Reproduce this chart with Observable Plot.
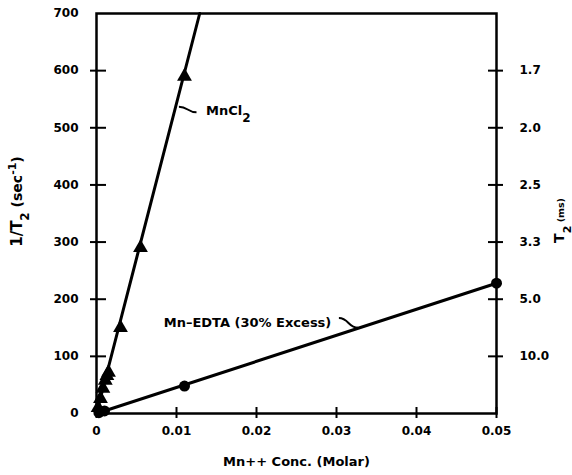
<!DOCTYPE html>
<html><head><meta charset="utf-8">
<script src="https://cdn.jsdelivr.net/npm/d3@7"></script>
<script src="https://cdn.jsdelivr.net/npm/@observablehq/plot@0.6"></script>
<style>body{margin:0;background:#fff}</style>
</head><body><div id="chart"></div>
<script>
// MnCl2 measured points (triangles)
const mncl2X = [0.0002, 0.0005, 0.0008, 0.0011, 0.0013, 0.0015, 0.003, 0.0055, 0.011];
const mncl2Y = [10, 26, 44, 58, 66, 72, 150, 290, 590];
// Mn-EDTA measured points (circles)
const edtaX = [0.0003, 0.001, 0.011, 0.05];
const edtaY = [1.5, 4.5, 48, 228];
// fitted lines
const mncl2FitX = [0, 0.0129];
const mncl2FitY = [0, 700];
const edtaFitX = [0, 0.05];
const edtaFitY = [0, 228];
// ticks
const xTicks = [0, 0.01, 0.02, 0.03, 0.04, 0.05];
const xTickLabels = ["0", "0.01", "0.02", "0.03", "0.04", "0.05"];
const yTicks = [0, 100, 200, 300, 400, 500, 600, 700];
const yTickMarks = [100, 200, 300, 400, 500, 600];
const t2Ticks = [100, 200, 300, 400, 500, 600];
const t2Labels = ["10.0", "5.0", "3.3", "2.5", "2.0", "1.7"];
// annotations
const annText = ["MnCl2", "Mn\u2013EDTA (30% Excess)"];
const annX = [0.0137, 0.0084];
const annY = [530, 159];
const leaderX1 = [0.0103, 0.0303];
const leaderY1 = [537, 167];
const leaderX2 = [0.0125, 0.0327];
const leaderY2 = [527, 150];

const pts = (xs, ys) => xs.map((x, i) => ({x, y: ys[i]}));
const xFmt = d => xTickLabels[xTicks.indexOf(d)];
const t2Fmt = d => t2Labels[t2Ticks.indexOf(d)];
const ann = annText.map((t, i) => ({t, x: annX[i], y: annY[i]}));
const leaders = leaderX1.map((x1, i) => ({x1, y1: leaderY1[i], x2: leaderX2[i], y2: leaderY2[i]}));

const plot = Plot.plot({
  width: 572,
  height: 475,
  marginLeft: 96,
  marginRight: 76,
  marginTop: 13,
  marginBottom: 62,
  style: {fontFamily: "DejaVu Sans, sans-serif", fontWeight: "bold", fontSize: "12px", background: "#fff", color: "#000"},
  x: {domain: [0, 0.05]},
  y: {domain: [0, 700]},
  marks: [
    Plot.frame({strokeWidth: 2.5}),
    Plot.axisX(xTicks, {tickSize: 11, dy: -6, text: null, strokeWidth: 2, label: null}),
    Plot.axisX(xTicks, {tickSize: 0, tickPadding: 13, tickFormat: xFmt, fontSize: 12, label: null}),
    Plot.axisY(yTickMarks, {anchor: "left", tickSize: 16, dx: 10, text: null, strokeWidth: 2, label: null}),
    Plot.axisY(yTicks, {anchor: "left", tickSize: 0, tickPadding: 18, fontSize: 12, label: null}),
    Plot.axisY(t2Ticks, {anchor: "right", tickSize: 15, dx: -9, text: null, strokeWidth: 2, label: null}),
    Plot.axisY(t2Ticks, {anchor: "right", tickSize: 0, tickPadding: 23, tickFormat: t2Fmt, fontSize: 12, label: null}),
    Plot.line(pts(mncl2FitX, mncl2FitY), {x: "x", y: "y", strokeWidth: 3, stroke: "#000"}),
    Plot.line(pts(edtaFitX, edtaFitY), {x: "x", y: "y", strokeWidth: 3, stroke: "#000"}),
    Plot.dot(pts(mncl2X, mncl2Y), {x: "x", y: "y", symbol: "triangle", r: 5.5, fill: "#000"}),
    Plot.dot(pts(edtaX, edtaY), {x: "x", y: "y", r: 5.5, fill: "#000"}),
    Plot.link(leaders, {x1: "x1", y1: "y1", x2: "x2", y2: "y2", strokeWidth: 2, stroke: "#000", curve: "bump-x"}),
    Plot.text(ann, {x: "x", y: "y", text: "t", textAnchor: "start", fontSize: 13, className: "ann"}),
    Plot.text(["1/T2 (sec-1)"], {frameAnchor: "left", textAnchor: "middle", dx: -79, dy: -12, rotate: -90, fontSize: 15, className: "ylab"}),
    Plot.text(["T2 (ms)"], {frameAnchor: "right", textAnchor: "middle", dx: 63, dy: 7, rotate: -90, fontSize: 14, className: "y2lab"}),
    Plot.text(["Mn++ Conc. (Molar)"], {frameAnchor: "bottom", dx: 0, dy: 52, fontSize: 13, className: "xlab"})
  ]
});

// rich text: subscripts / superscripts
const sel = d3.select(plot);
function rich(cls, parts) {
  sel.selectAll("g." + cls + " text").each(function() {
    const t = d3.select(this);
    t.text(null);
    for (const [s, shift, size] of parts) {
      const ts = t.append("tspan").text(s);
      if (shift) ts.attr("baseline-shift", shift);
      if (size) ts.attr("font-size", size);
    }
  });
}
rich("ylab", [["1/T", null, null], ["2", "sub", "12px"], [" (sec", null, "14px"], ["-1", "super", "11px"], [")", null, "14px"]]);
rich("y2lab", [["T", null, null], ["2", "sub", "11px"], [" (ms)", null, "9.5px"]]);
sel.selectAll("g.ann text").filter(function() { return this.textContent === "MnCl2"; }).each(function() {
  const t = d3.select(this);
  t.text(null);
  t.append("tspan").text("MnCl");
  t.append("tspan").attr("baseline-shift", "sub").attr("font-size", "12px").text("2");
});
document.getElementById("chart").append(plot);
</script>
</body></html>
